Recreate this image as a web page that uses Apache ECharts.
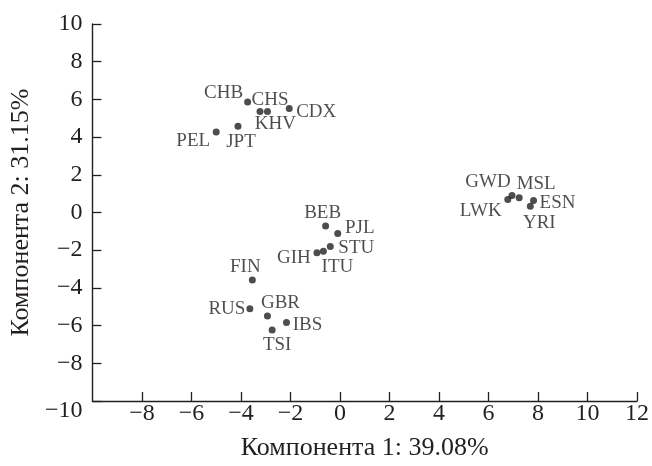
<!DOCTYPE html>
<html>
<head>
<meta charset="utf-8">
<script src="https://cdn.jsdelivr.net/npm/echarts@6/dist/echarts.min.js"></script>
<style>
html,body{margin:0;padding:0;background:#fff;}
#chart{width:652px;height:466px;}
</style>
</head>
<body>
<div id="chart"></div>
<script>
// Data
var populations = ['CHB','CHS','KHV','CDX','PEL','JPT','LWK','GWD','MSL','YRI','ESN','BEB','PJL','GIH','ITU','STU','FIN','RUS','GBR','IBS','TSI'];
var comp1 = [-3.73,-3.23,-2.93,-2.05,-5.00,-4.12,6.78,6.95,7.24,7.69,7.82,-0.58,-0.09,-0.93,-0.67,-0.39,-3.54,-3.64,-2.93,-2.16,-2.74];
var comp2 = [5.86,5.36,5.36,5.52,4.27,4.57,0.69,0.90,0.78,0.33,0.63,-0.72,-1.11,-2.13,-2.05,-1.81,-3.58,-5.10,-5.49,-5.84,-6.23];
var xTicks = [-10,-8,-6,-4,-2,0,2,4,6,8,10,12];
var yTicks = [-10,-8,-6,-4,-2,0,2,4,6,8,10];
var xTitle = 'Компонента 1: 39.08%';
var yTitle = 'Компонента 2: 31.15%';

// Label placement (style only), offset in px from the dot centre
var labelOffsets = {
  CHB:[-24,-9], CHS:[10,-11], KHV:[8,13], CDX:[27,4], PEL:[-23,9], JPT:[3,16],
  LWK:[-27,12], GWD:[-24,-14], MSL:[17,-14], YRI:[9,17], ESN:[24,2],
  BEB:[-3,-13], PJL:[22,-5], GIH:[-23,5], ITU:[14,16], STU:[26,1],
  FIN:[-7,-13], RUS:[-23,0], GBR:[13,-13], IBS:[21,2], TSI:[5,15]
};

var FONT = 'Liberation Serif';
var INK = '#231f20';
var points = populations.map(function(n,i){
  var off = labelOffsets[n] || [0,0];
  return {name:n, value:[comp1[i], comp2[i]], label:{offset:off}};
});

function fmt(v){ return v < 0 ? '\u2212' + Math.abs(v) : String(v); }

var chart = echarts.init(document.getElementById('chart'));
chart.setOption({
  animation:false,
  grid:{left:76, right:8, top:24, bottom:64, containLabel:false},
  xAxis:{
    type:'value', min:xTicks[0], max:xTicks[xTicks.length-1], interval:2,
    name:xTitle, nameLocation:'middle', nameGap:34,
    nameTextStyle:{fontFamily:FONT, fontSize:26, color:INK},
    axisLine:{show:true, onZero:false, lineStyle:{color:INK, width:1.4}},
    axisTick:{show:true, inside:true, length:9, lineStyle:{color:INK, width:1.3}},
    axisLabel:{fontFamily:FONT, fontSize:24, color:INK, margin:1, showMinLabel:false,
      formatter:function(v){ return fmt(v); }},
    splitLine:{show:false}
  },
  yAxis:{
    type:'value', min:yTicks[0], max:yTicks[yTicks.length-1], interval:2,
    name:yTitle, nameLocation:'middle', nameGap:40, nameRotate:90,
    nameTextStyle:{fontFamily:FONT, fontSize:26, color:INK},
    axisLine:{show:true, onZero:false, lineStyle:{color:INK, width:1.4}},
    axisTick:{show:true, inside:true, length:9, lineStyle:{color:INK, width:1.3}},
    axisLabel:{fontFamily:FONT, fontSize:24, color:INK, margin:10,
      formatter:function(v){ return v === yTicks[0] ? '{low|' + fmt(v) + '}' : fmt(v); },
      rich:{low:{fontFamily:FONT, fontSize:24, color:INK, padding:[20,0,0,0]}}},
    splitLine:{show:false}
  },
  series:[{
    type:'scatter',
    data:points,
    symbol:'circle', symbolSize:7,
    itemStyle:{color:INK},
    label:{show:true, position:'inside', formatter:'{b}',
      fontFamily:FONT, fontSize:19, color:INK}
  }]
});
</script>
</body>
</html>
